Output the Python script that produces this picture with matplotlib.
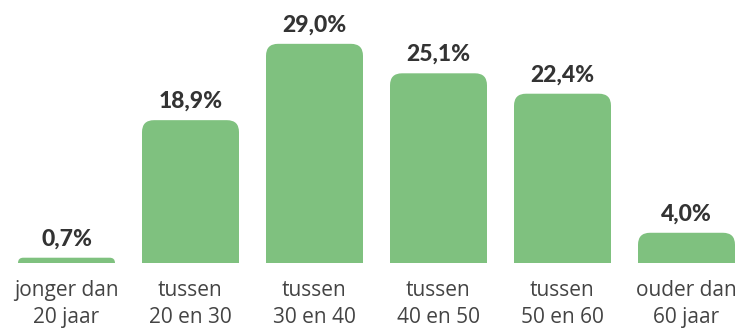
import matplotlib.pyplot as plt
from matplotlib.patches import FancyBboxPatch
from matplotlib.transforms import offset_copy

categories = ["jonger dan\n20 jaar", "tussen\n20 en 30", "tussen\n30 en 40",
              "tussen\n40 en 50", "tussen\n50 en 60", "ouder dan\n60 jaar"]
values = [0.7, 18.9, 29.0, 25.1, 22.4, 4.0]
value_labels = ["0,7%", "18,9%", "29,0%", "25,1%", "22,4%", "4,0%"]

BAR_COLOR = "#7fc17f"
TEXT_COLOR = "#333333"

W, H, DPI = 740, 329, 100
fig = plt.figure(figsize=(W / DPI, H / DPI), dpi=DPI)
base_px = 263
ax = fig.add_axes([0, (H - base_px) / H, 1, base_px / H])
ax.set_axis_off()

step_px = 124.0
first_px = 66.5
ymax = 34.8
ax.set_xlim(-first_px / step_px, (W - first_px) / step_px)
ax.set_ylim(0, ymax)

# data units per pixel in each direction, used to keep rounded corners circular
x_per_px = 1 / step_px
y_per_px = ymax / base_px
bar_width = 97 * x_per_px

for i, v in enumerate(values):
    h_px = v / y_per_px
    r_px = min(12, max(h_px, 3))
    r = r_px * x_per_px
    aspect = y_per_px / x_per_px
    below = 2 * r_px * y_per_px
    patch = FancyBboxPatch((i - bar_width / 2, -below), bar_width, v + below,
                           boxstyle=f"round,pad=0,rounding_size={r}",
                           mutation_aspect=aspect, facecolor=BAR_COLOR,
                           edgecolor="none")
    ax.add_patch(patch)

    lab_tr = offset_copy(ax.transData, fig=fig, y=9, units="points")
    ax.text(i, v, value_labels[i], transform=lab_tr, ha="center", va="baseline",
            fontsize=16.5, fontweight=900, family="Lato", color=TEXT_COLOR,
            clip_on=False)

    cat_tr = offset_copy(ax.transData, fig=fig, y=-12, units="points")
    ax.text(i, 0, categories[i], transform=cat_tr, ha="center", va="top",
            fontsize=15, family="Open Sans", color="#444444",
            linespacing=1.38, clip_on=False)

fig.savefig("out.png", dpi=DPI)
